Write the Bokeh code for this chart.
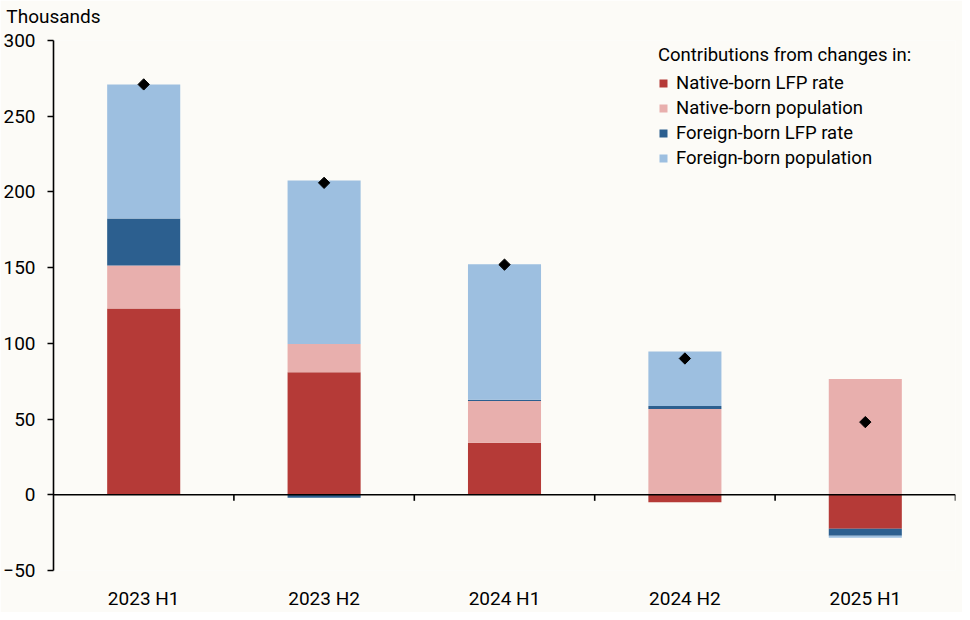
import numpy as np
from bokeh.plotting import figure
from bokeh.models import (Range1d, FixedTicker, Span, Legend, LegendItem, LinearAxis)
from bokeh.embed import file_html
from bokeh.resources import INLINE

# ---- data (thousands) ----
categories = ["2023 H1", "2023 H2", "2024 H1", "2024 H2", "2025 H1"]
native_lfp = [123.0, 81.0, 34.3, -5.0, -22.4]
native_pop = [28.4, 18.5, 27.7, 56.7, 76.5]
foreign_lfp = [31.0, -2.0, 0.7, 2.0, -4.6]
foreign_pop = [88.5, 108.0, 89.5, 36.0, -1.3]
totals = [271.0, 206.0, 152.0, 90.0, 48.0]

series_names = ["Native-born LFP rate", "Native-born population",
                "Foreign-born LFP rate", "Foreign-born population"]
series_vals = [native_lfp, native_pop, foreign_lfp, foreign_pop]
colors = ["#B53A37", "#E8AFAD", "#2C5F8F", "#9DBFE0"]

y_ticks = [-50, 0, 50, 100, 150, 200, 250, 300]
unit_label = "Thousands"

FONT = "Roboto"
BG = "#FCFBF7"

W, H = 962, 612
p = figure(width=W, height=H, output_backend="svg", toolbar_location=None,
           x_range=Range1d(0, len(categories)), y_range=Range1d(-50, 300),
           min_border_left=53, min_border_right=7, min_border_top=40,
           min_border_bottom=41)
p.background_fill_color = BG
p.border_fill_color = BG
p.outline_line_color = None
p.xgrid.grid_line_color = None
p.ygrid.grid_line_color = None

xc = np.arange(len(categories)) + 0.5

pos = np.zeros(len(categories))
neg = np.zeros(len(categories))
items = []
for name, vals, col in zip(series_names, series_vals, colors):
    v = np.array(vals)
    bottom = np.where(v >= 0, pos, neg + v)
    top = np.where(v >= 0, pos + v, neg)
    pos = np.where(v >= 0, pos + v, pos)
    neg = np.where(v < 0, neg + v, neg)
    r = p.vbar(x=xc, width=0.405, bottom=bottom, top=top,
               fill_color=col, line_color=None)
    items.append(LegendItem(label=name, renderers=[r]))

# zero line
p.add_layout(Span(location=0, dimension="width", line_color="black", line_width=1.6))
# category boundary ticks on the zero line
bx = np.arange(1, len(categories) + 1)
p.segment(x0=bx, x1=bx, y0=np.zeros(len(bx)), y1=np.full(len(bx), -4.0),
          line_color="black", line_width=1.6)

# totals
p.scatter(x=xc, y=totals, marker="square", angle=np.pi / 4, size=8,
          fill_color="black", line_color="black")

# axes
ya = p.yaxis[0]
ya.ticker = FixedTicker(ticks=y_ticks)
ya.axis_line_color = "black"
ya.axis_line_width = 1.6
ya.major_tick_line_color = "black"
ya.major_tick_line_width = 1.6
ya.major_tick_in = 0
ya.major_tick_out = 6
ya.minor_tick_line_color = None
ya.minor_tick_in = 0
ya.minor_tick_out = 0
ya.major_label_standoff = 12
ya.major_label_text_font = FONT
ya.major_label_text_font_size = "19px"
ya.major_label_text_color = "black"

xa = p.xaxis[0]
xa.ticker = FixedTicker(ticks=list(xc))
xa.major_label_overrides = {float(x): c for x, c in zip(xc, categories)}
xa.axis_line_color = None
xa.major_tick_line_color = None
xa.minor_tick_line_color = None
xa.major_tick_in = 0
xa.major_tick_out = 0
xa.minor_tick_in = 0
xa.minor_tick_out = 0
xa.major_label_standoff = 16
xa.major_label_text_font = FONT
xa.major_label_text_font_size = "19px"
xa.major_label_text_color = "black"

# unit label, drawn as the single label of an axis above the frame
ua = LinearAxis(ticker=FixedTicker(ticks=[0]),
                major_label_overrides={0: unit_label})
ua.axis_line_color = None
ua.major_tick_line_color = None
ua.minor_tick_line_color = None
ua.major_tick_in = 0
ua.major_tick_out = 0
ua.minor_tick_in = 0
ua.minor_tick_out = 0
ua.major_label_standoff = 13
ua.major_label_text_font = FONT
ua.major_label_text_font_size = "19px"
ua.major_label_text_color = "black"
p.add_layout(ua, "above")

legend = Legend(items=items, location=(605, 401),
                title="Contributions from changes in:",
                title_text_font=FONT, title_text_font_size="18.5px",
                title_text_font_style="normal", title_text_color="black",
                title_standoff=6,
                label_text_font=FONT, label_text_font_size="18.5px",
                label_text_color="black",
                glyph_width=10, glyph_height=10, label_standoff=8,
                label_height=20, spacing=3, padding=0, margin=0,
                border_line_color=None, background_fill_alpha=0)
p.add_layout(legend)

open("out.html", "w").write(file_html(p, INLINE))
